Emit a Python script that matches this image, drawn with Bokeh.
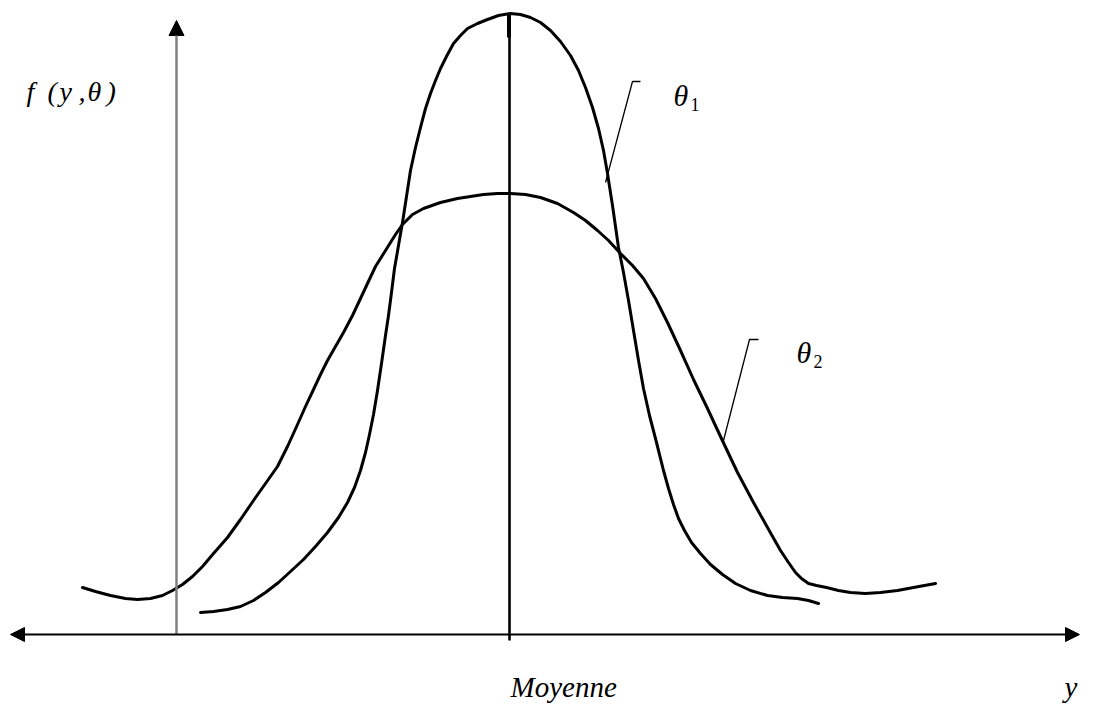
from bokeh.plotting import figure
from bokeh.models import Range1d, Arrow, NormalHead
from bokeh.core.properties import value
from bokeh.embed import file_html
from bokeh.resources import INLINE

# ---- data (diagram units) ----
theta1_x = [200, 213, 227, 240, 253, 265, 278, 290, 303, 315, 327, 338, 347, 354, 360, 365,
            369, 373, 377, 381, 385, 388, 391, 394, 398, 402, 406, 410, 415, 420, 425, 430,
            435, 440, 447, 453, 460, 467, 477, 487, 498, 510, 520, 530, 540, 550, 560, 570,
            578, 585, 592, 598, 603, 607, 612, 618, 623, 628, 633, 638, 643, 649, 656, 663,
            668, 673, 678, 684, 691, 700, 710, 722, 735, 750, 767, 782, 797, 808, 818]
theta1_y = [612, 611, 609, 606, 600, 592, 582, 571, 559, 546, 532, 517, 502, 487, 470, 452,
            434, 414, 390, 363, 335, 315, 292, 268, 245, 222, 196, 170, 147, 127, 108, 93,
            80, 68, 54, 43, 35, 28, 23, 19, 15, 13, 14, 17, 22, 30, 41, 55,
            70, 87, 107, 128, 150, 173, 205, 247, 272, 300, 330, 360, 388, 415, 442, 470,
            488, 504, 518, 530, 542, 553, 564, 574, 583, 590, 595, 597, 598, 600, 603]

theta2_x = [82, 95, 110, 125, 137, 150, 162, 172, 182, 192, 202, 213, 227, 240, 253, 265,
            277, 287, 297, 305, 313, 320, 327, 335, 343, 352, 360, 367, 375, 385, 395, 402,
            412, 423, 440, 457, 470, 483, 497, 510, 525, 540, 557, 573, 585, 597, 608, 620,
            632, 643, 655, 667, 680, 693, 707, 720, 737, 753, 767, 780, 788, 795, 801, 808,
            816, 826, 838, 850, 865, 880, 897, 913, 935]
theta2_y = [587, 591, 595, 598, 599, 598, 595, 590, 584, 576, 566, 553, 537, 519, 500, 483,
            466, 446, 424, 406, 389, 374, 360, 346, 332, 315, 298, 283, 266, 250, 234, 224,
            214, 208, 202, 198, 196, 194, 193, 193, 194, 197, 203, 212, 220, 230, 240, 253,
            265, 278, 298, 322, 350, 379, 408, 436, 472, 502, 527, 550, 562, 572, 578, 583,
            585, 587, 590, 592, 593, 592, 590, 587, 583]

# axis and marker positions
x_axis_y = 634
y_axis_x = 176
mean_x = 509

ylabel_chars = ["f", "(", "y", ",", "θ", ")"]
ylabel_xs = [26, 47, 59, 78, 87, 106]

W, H = 1080, 709
p = figure(width=W, height=H, output_backend="svg", toolbar_location=None,
           x_range=Range1d(0, W), y_range=Range1d(H, 0),
           min_border=0, min_border_left=0, min_border_right=0,
           min_border_top=0, min_border_bottom=0)
p.xaxis.visible = False
p.yaxis.visible = False
p.grid.visible = False
p.outline_line_color = None
p.background_fill_color = "white"
p.border_fill_color = "white"

# vertical (gray) axis with arrowhead
p.add_layout(Arrow(x_start=y_axis_x, y_start=x_axis_y, x_end=y_axis_x, y_end=20,
                   line_color="#808080", line_width=2.5,
                   end=NormalHead(size=15, fill_color="black", line_color="black", line_width=1)))

# horizontal axis, double headed
p.add_layout(Arrow(x_start=10, y_start=x_axis_y, x_end=1079, y_end=x_axis_y,
                   line_color="black", line_width=2.2,
                   start=NormalHead(size=14, fill_color="black", line_color="black", line_width=1),
                   end=NormalHead(size=14, fill_color="black", line_color="black", line_width=1)))

# mean line
p.line([mean_x, mean_x], [13, 640], line_color="black", line_width=2.6)
p.line([mean_x - 0.5, mean_x - 0.5], [13, 37], line_color="black", line_width=4)

# curves
p.line(theta1_x, theta1_y, line_color="black", line_width=3,
       line_join="round", line_cap="round")
p.line(theta2_x, theta2_y, line_color="black", line_width=3,
       line_join="round", line_cap="round")

# leader lines
p.line([605, 632, 640], [182, 81, 81], line_color="black", line_width=1.3)
p.line([723, 749, 758], [440, 339, 339], line_color="black", line_width=1.3)

serif = value("Liberation Serif")

# y-axis label f(y,θ)
p.text(ylabel_xs, [91] * len(ylabel_chars), text=ylabel_chars, text_font=serif,
       text_font_size="28px", text_font_style="italic", text_color="black",
       text_baseline="alphabetic", text_align="left")

# θ labels
p.text([673, 796], [95, 352], text=["θ", "θ"], text_font=serif,
       text_font_size="30px", text_font_style="italic", text_color="black",
       text_baseline="alphabetic", text_align="left")
p.text([690, 813], [104, 361], text=["1", "2"], text_font=serif,
       text_font_size="18px", text_color="black",
       text_baseline="alphabetic", text_align="left")

# x labels
p.text([510, 1064], [686, 686], text=["Moyenne", "y"], text_font=serif,
       text_font_size="29px", text_font_style="italic", text_color="black",
       text_baseline="alphabetic", text_align="left")

open("out.html", "w").write(file_html(p, INLINE))
